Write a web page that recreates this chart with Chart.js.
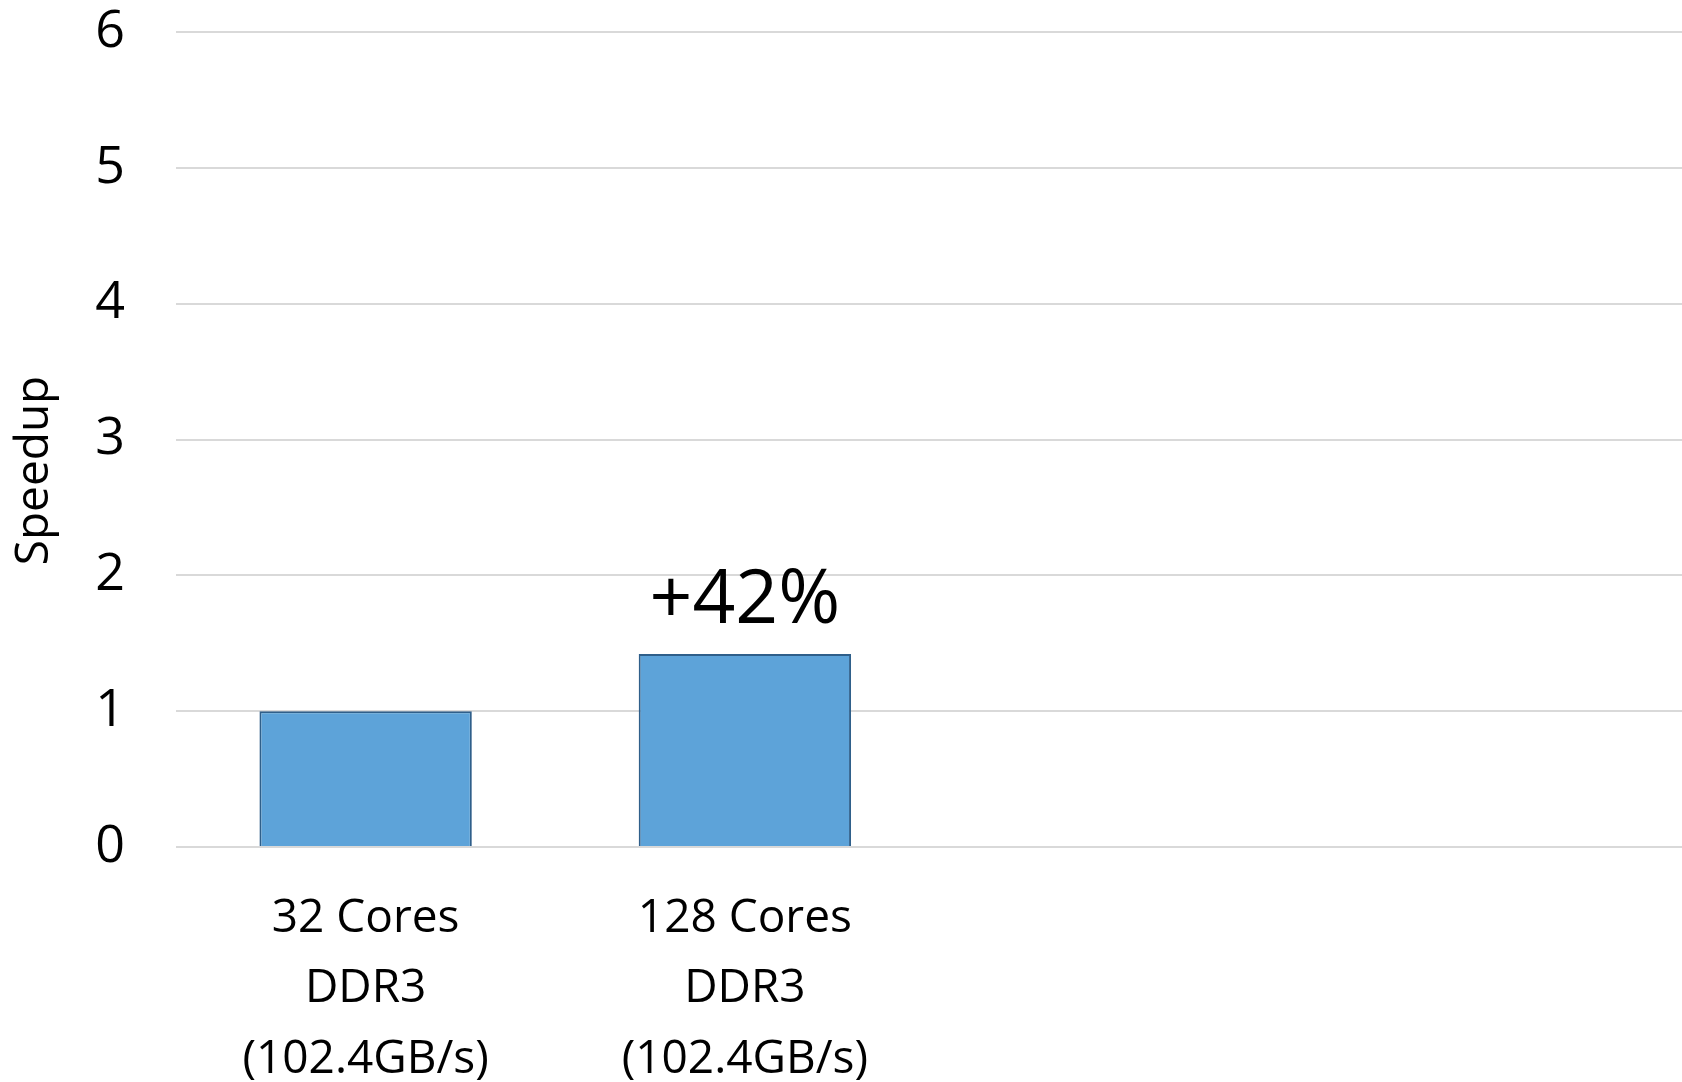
<!DOCTYPE html>
<html>
<head>
<meta charset="utf-8">
<title>Speedup</title>
<script src="https://cdn.jsdelivr.net/npm/chart.js@4/dist/chart.umd.min.js"></script>
<style>
  html, body { margin: 0; padding: 0; background: #fff; overflow: hidden; }
  /* el eje del original sigue un poco mas alla del borde derecho */
  #wrap { width: 1682px; height: 1082px; overflow: hidden; }
</style>
</head>
<body>
<div id="wrap"><canvas id="speedupChart" width="1693" height="1082"></canvas></div>
<script>
// Datos
const categories = [
  ['32 Cores', 'DDR3', '(102.4GB/s)'],
  ['128 Cores', 'DDR3', '(102.4GB/s)'],
  '',
  '',
];
const speedup = [1, 1.42, null, null];
const barNotes = ['', '+42%', '', ''];
const yTitle = 'Speedup';
const yMin = 0;
const yMax = 6;
const yStep = 1;

const FONT = "'Open Sans', 'DejaVu Sans', sans-serif";

// Etiqueta encima de cada barra (+42%)
const barNotesPlugin = {
  id: 'barNotes',
  afterDatasetsDraw(chart) {
    const meta = chart.getDatasetMeta(0);
    const ctx = chart.ctx;
    ctx.save();
    ctx.font = `75px ${FONT}`;
    ctx.fillStyle = '#000';
    ctx.textAlign = 'center';
    ctx.textBaseline = 'alphabetic';
    meta.data.forEach((bar, i) => {
      if (!barNotes[i]) return;
      ctx.fillText(barNotes[i], bar.x, bar.y - 31);
    });
    ctx.restore();
  },
};

// Titulo del eje Y, un poco por debajo del centro como en el original
const yTitlePlugin = {
  id: 'yTitle',
  afterDraw(chart) {
    const ctx = chart.ctx;
    const area = chart.chartArea;
    ctx.save();
    ctx.translate(35, (area.top + area.bottom) / 2 + 31);
    ctx.rotate(-Math.PI / 2);
    ctx.font = `46px ${FONT}`;
    ctx.fillStyle = '#000';
    ctx.textAlign = 'center';
    ctx.textBaseline = 'middle';
    ctx.fillText(yTitle, 0, 0);
    ctx.restore();
  },
};

new Chart(document.getElementById('speedupChart'), {
  type: 'bar',
  data: {
    labels: categories,
    datasets: [{
      label: yTitle,
      data: speedup,
      backgroundColor: '#5DA3D9',
      borderColor: '#2F5F8A',
      borderWidth: 2,
      barPercentage: 0.56,
      categoryPercentage: 1,
    }],
  },
  options: {
    responsive: false,
    animation: false,
    layout: { padding: 0 },
    plugins: {
      legend: { display: false },
      tooltip: { enabled: false },
    },
    scales: {
      x: {
        grid: { display: false, drawTicks: false },
        border: { display: false },
        ticks: {
          color: '#000',
          font: { family: FONT, size: 46, lineHeight: 1.54 },
          padding: 36,
          maxRotation: 0,
          autoSkip: false,
        },
        afterFit(scale) { scale.height = 235; },
      },
      y: {
        min: yMin,
        max: yMax,
        grid: { color: '#d9d9d9', lineWidth: 2, drawTicks: false },
        border: { display: false },
        ticks: {
          stepSize: yStep,
          color: '#000',
          font: { family: FONT, size: 52 },
          padding: 51,
        },
        afterFit(scale) {
          scale.width = 176;
          scale.paddingTop = 32;
          scale.paddingBottom = 0;
        },
      },
    },
  },
  plugins: [barNotesPlugin, yTitlePlugin],
});
</script>
</body>
</html>
